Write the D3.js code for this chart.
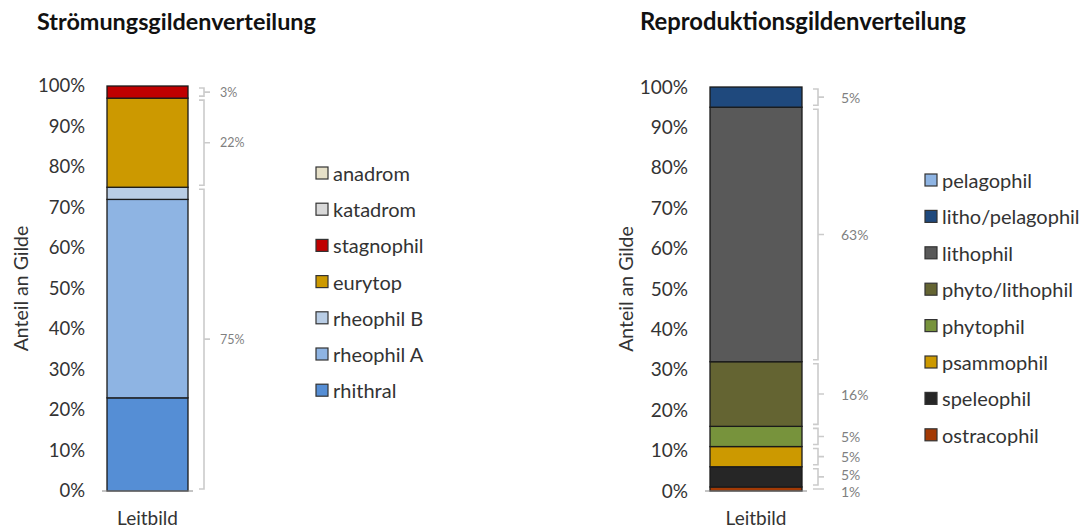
<!DOCTYPE html>
<html><head><meta charset="utf-8">
<script src="https://cdn.jsdelivr.net/npm/d3@7"></script>
<style>
body{margin:0;background:#fff;}
svg{display:block;font-family:Lato,"Open Sans",sans-serif;}
</style></head>
<body><svg id="c" width="1086" height="529"></svg>
<script>
// ---- data ----
const yTicks = [0,10,20,30,40,50,60,70,80,90,100];
const xCategory = "Leitbild";
const yTitle = "Anteil an Gilde";

const stroemTitle = "Strömungsgildenverteilung";
const stroemCategories = ["rhithral","rheophil A","rheophil B","eurytop","stagnophil","katadrom","anadrom"];
const stroemValues = [23,49,3,22,3,0,0];
const stroemColors = ["#558ed5","#8eb4e3","#b9cde5","#cc9900","#c00000","#d9d9d9","#e6e0c8"];
const stroemBracketGroups = [[0,1,2],[3],[4]];
const stroemBracketLabels = ["75%","22%","3%"];

const reproTitle = "Reproduktionsgildenverteilung";
const reproCategories = ["ostracophil","speleophil","psammophil","phytophil","phyto/lithophil","lithophil","litho/pelagophil","pelagophil"];
const reproValues = [1,5,5,5,16,63,5,0];
const reproColors = ["#a33a05","#262626","#cc9900","#77933c","#646432","#595959","#1f497d","#8eb4e3"];
const reproBracketGroups = [[0],[1],[2],[3],[4],[5],[6]];
const reproBracketLabels = ["1%","5%","5%","5%","16%","63%","5%"];

const svg = d3.select("#c");

function drawChart(o){
  const g = svg.append("g");
  const y = d3.scaleLinear().domain([0,100]).range([o.bottom,o.top]);
  const x = d3.scaleBand().domain([xCategory]).range([o.plotLeft,o.plotRight]).paddingInner(0).paddingOuter(0);

  // title
  g.append("text").attr("x",o.titleX).attr("y",30).attr("font-size",o.titleSize).attr("font-weight","bold")
    .attr("fill","#111").text(o.title);

  // y axis
  const ax = g.append("g").attr("transform",`translate(${o.tickX},0)`)
    .call(d3.axisLeft(y).tickValues(yTicks).tickFormat(d=>d+"%").tickSize(0).tickPadding(0));
  ax.select(".domain").remove();
  ax.selectAll("text").attr("font-size",o.tickSize).attr("fill","#333").attr("font-family","Lato,'Open Sans',sans-serif");

  // axis title
  g.append("text").attr("transform",`translate(${o.yTitleX},${(o.top+o.bottom)/2}) rotate(-90)`)
    .attr("text-anchor","middle").attr("dominant-baseline","central").attr("font-size",19.5).attr("fill","#333").text(yTitle);

  // stacked bar
  let cum = 0;
  const segs = o.values.map((v,i)=>{const s={i,v,y0:cum,y1:cum+v,color:o.colors[i]}; cum+=v; return s;});
  g.selectAll("rect.seg").data(segs.filter(s=>s.v>0)).join("rect").attr("class","seg")
    .attr("x",x(xCategory)).attr("width",x.bandwidth())
    .attr("y",d=>y(d.y1)).attr("height",d=>y(d.y0)-y(d.y1))
    .attr("fill",d=>d.color).attr("stroke","#1a1a1a").attr("stroke-width",1.3);

  // baseline
  g.append("line").attr("x1",x(xCategory)-5).attr("x2",x(xCategory)+x.bandwidth()+5)
    .attr("y1",y(0)).attr("y2",y(0)).attr("stroke","#888").attr("stroke-width",1);

  // x label
  g.append("text").attr("x",x(xCategory)+x.bandwidth()/2).attr("y",525).attr("text-anchor","middle")
    .attr("font-size",19).attr("fill","#333").text(xCategory);

  // brackets
  const bx = o.bracketX;
  o.groups.forEach((grp,k)=>{
    const lo = segs[grp[0]].y0, hi = segs[grp[grp.length-1]].y1;
    const yTop = y(hi)+2, yBot = y(lo)-2, yMid=(yTop+yBot)/2;
    const p = d3.path();
    p.moveTo(bx-5,yTop); p.lineTo(bx,yTop); p.lineTo(bx,yBot); p.lineTo(bx-5,yBot);
    p.moveTo(bx,yMid); p.lineTo(bx+6,yMid);
    g.append("path").attr("d",p.toString()).attr("fill","none").attr("stroke","#cbcbcb").attr("stroke-width",1.6);
    g.append("text").attr("x",o.labelX).attr("y",yMid+(o.labelShift?o.labelShift[k]:0)).attr("dominant-baseline","central")
      .attr("font-size",o.labelSize).attr("fill","#7f7f7f").text(o.bracketLabels[k]);
  });

  // legend (top = last category)
  const leg = g.append("g");
  const order = o.categories.map((c,i)=>i).reverse();
  order.forEach((i,r)=>{
    const cy = o.legendY + r*o.legendStep;
    leg.append("rect").attr("x",o.legendX).attr("y",cy-6).attr("width",12).attr("height",12)
      .attr("fill",o.colors[i]).attr("stroke","#333").attr("stroke-width",1.2);
    leg.append("text").attr("x",o.legendX+17).attr("y",cy).attr("dominant-baseline","central")
      .attr("font-size",20).attr("fill","#333").text(o.categories[i]);
  });
}

drawChart({title:stroemTitle,titleX:37,titleSize:23.4,tickSize:18.5,labelSize:12.5,categories:stroemCategories,values:stroemValues,colors:stroemColors,
  groups:stroemBracketGroups,bracketLabels:stroemBracketLabels,
  top:86,bottom:491,plotLeft:107,plotRight:188,tickX:85,yTitleX:20,
  bracketX:204,labelX:220,legendX:316,legendY:173,legendStep:36.2});

drawChart({title:reproTitle,titleX:640,titleSize:23.8,tickSize:19,labelSize:14,categories:reproCategories,values:reproValues,colors:reproColors,
  groups:reproBracketGroups,bracketLabels:reproBracketLabels,labelShift:[3,-2,0,0,0,0,0],
  top:87,bottom:491,plotLeft:710,plotRight:802,tickX:688,yTitleX:625,
  bracketX:818,labelX:841,legendX:925,legendY:180,legendStep:36.4});
</script></body></html>
